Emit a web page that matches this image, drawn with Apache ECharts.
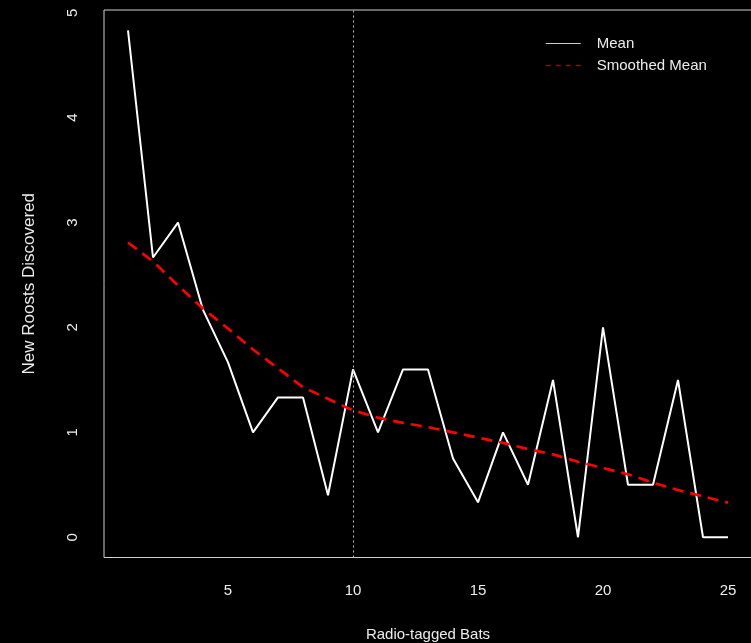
<!DOCTYPE html>
<html>
<head>
<meta charset="utf-8">
<script src="https://cdn.jsdelivr.net/npm/echarts@6/dist/echarts.min.js"></script>
<style>html,body{margin:0;padding:0;background:#000;}#c{width:751px;height:643px;}</style>
</head>
<body>
<div id="c"></div>
<script>
var bats = [1,2,3,4,5,6,7,8,9,10,11,12,13,14,15,16,17,18,19,20,21,22,23,24,25];
var meanRoosts = [4.833,2.667,3.0,2.167,1.667,1.0,1.333,1.333,0.4,1.6,1.0,1.6,1.6,0.75,0.333,1.0,0.5,1.5,0,2.0,0.5,0.5,1.5,0,0];
var smoothedMean = [2.81,2.63,2.40,2.18,1.99,1.79,1.61,1.43,1.32,1.21,1.14,1.09,1.05,1.0,0.95,0.90,0.84,0.79,0.72,0.66,0.60,0.52,0.45,0.39,0.33];
var xTicks = [5,10,15,20,25];
var yTicks = [0,1,2,3,4,5];
var markX = 10;

var txt = '#ececec';
var font = '"Liberation Sans", Arial, sans-serif';
var chart = echarts.init(document.getElementById('c'));
chart.setOption({
  backgroundColor: '#000',
  animation: false,
  textStyle: {fontFamily: font},
  grid: {left: 104, top: 10, width: 648, height: 547.5, show: true, borderColor: '#cfcfcf', borderWidth: 1, backgroundColor: 'transparent', containLabel: false, outerBoundsMode: 'none'},
  xAxis: {
    type: 'value', min: 0.04, max: 25.96,
    name: 'Radio-tagged Bats', nameLocation: 'middle', nameGap: 70,
    nameTextStyle: {color: txt, fontSize: 15, fontFamily: font},
    axisLine: {show: false}, axisTick: {show: false}, splitLine: {show: false},
    axisLabel: {customValues: xTicks, color: txt, fontSize: 15, margin: 26, fontFamily: font}
  },
  yAxis: {
    type: 'value', min: -0.1933, max: 5.0266,
    name: 'New Roosts Discovered', nameLocation: 'middle', nameGap: 66,
    nameTextStyle: {color: txt, fontSize: 17, fontFamily: font},
    axisLine: {show: false}, axisTick: {show: false}, splitLine: {show: false},
    axisLabel: {customValues: yTicks, color: txt, fontSize: 15, margin: 24, rotate: 90, fontFamily: font}
  },
  legend: {
    orient: 'vertical', left: 540, top: 31,
    itemWidth: 35, itemHeight: 14, itemGap: 7,
    textStyle: {color: txt, fontSize: 15, fontFamily: font, padding: [0,0,0,11]},
    data: [
      {name: 'Mean', itemStyle: {opacity: 0}, lineStyle: {width: 1, color: '#cccccc'}},
      {name: 'Smoothed Mean', itemStyle: {opacity: 0}, lineStyle: {width: 1.5, color: '#b00000', type: [5,5]}}
    ]
  },
  series: [
    {
      name: 'Mean', type: 'line', symbol: 'none',
      data: bats.map(function(b, i){ return [b, meanRoosts[i]]; }),
      lineStyle: {color: '#ffffff', width: 2}, itemStyle: {color: '#ffffff'},
      markLine: {
        silent: true, symbol: 'none', label: {show: false},
        lineStyle: {color: '#bdbdbd', width: 1, type: [2,3]},
        data: [{xAxis: markX}]
      }
    },
    {
      name: 'Smoothed Mean', type: 'line', symbol: 'none', smooth: false,
      data: bats.map(function(b, i){ return [b, smoothedMean[i]]; }),
      lineStyle: {color: '#ff0000', width: 2.7, type: [11,7]}, itemStyle: {color: '#ff0000'}
    }
  ]
});
</script>
</body>
</html>
